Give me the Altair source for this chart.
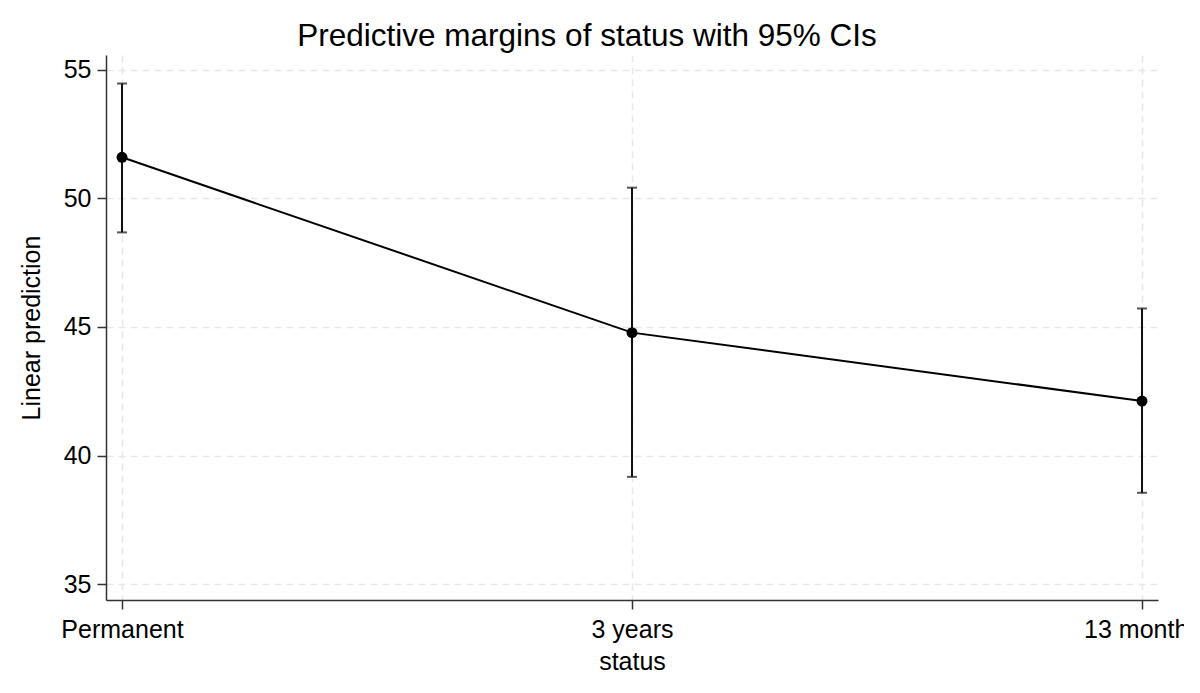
import altair as alt
import pandas as pd

status = ["Permanent", "3 years", "13 months"]
margin = [51.6, 44.78, 42.12]
ci_lo = [48.68, 39.17, 38.55]
ci_hi = [54.47, 50.42, 45.72]
y_ticks = [35, 40, 45, 50, 55]

df = pd.DataFrame({"status": status, "margin": margin, "lo": ci_lo, "hi": ci_hi})

FONT = "Liberation Sans"

x = alt.X("status:N", sort=status, title="status",
          scale=alt.Scale(type="point", padding=0.0314),
          axis=alt.Axis(labelAngle=0, labelFontSize=25, titleFontSize=25,
                        labelFont=FONT, titleFont=FONT, titleFontWeight="normal",
                        labelColor="black", titleColor="black",
                        domainColor="#333333", domainWidth=1.5,
                        tickColor="#333333", tickWidth=1.5, tickSize=9,
                        labelPadding=8, titlePadding=7,
                        grid=True, gridColor="#e8e8e8", gridDash=[7, 5], gridWidth=1.5))
y_axis = alt.Axis(values=y_ticks, labelFontSize=25, titleFontSize=25,
                  labelFont=FONT, titleFont=FONT, titleFontWeight="normal",
                  labelColor="black", titleColor="black",
                  domainColor="#333333", domainWidth=1.5,
                  tickColor="#333333", tickWidth=1.5, tickSize=9,
                  labelPadding=6, titlePadding=19,
                  grid=True, gridColor="#e8e8e8", gridDash=[7, 5], gridWidth=1.5)
yscale = alt.Scale(domain=[34.38, 55.58], nice=False, zero=False)

base = alt.Chart(df)

bars = base.mark_rule(color="#111111", strokeWidth=2).encode(
    x=x,
    y=alt.Y("lo:Q", scale=yscale, axis=y_axis, title="Linear prediction"),
    y2="hi:Q",
)
caps_lo = base.mark_tick(color="#111111", orient="horizontal", size=10, thickness=2).encode(
    x=x, y=alt.Y("lo:Q", scale=yscale))
caps_hi = base.mark_tick(color="#111111", orient="horizontal", size=10, thickness=2).encode(
    x=x, y=alt.Y("hi:Q", scale=yscale))
line = base.mark_line(color="black", strokeWidth=2).encode(
    x=x, y=alt.Y("margin:Q", scale=yscale))
pts = base.mark_point(filled=True, color="black", size=120, opacity=1).encode(
    x=x, y=alt.Y("margin:Q", scale=yscale))

chart = alt.layer(bars, caps_lo, caps_hi, line, pts).properties(
    width=1052, height=545,
    autosize=alt.AutoSizeParams(type="none"),
    padding={"left": 98, "top": 47, "right": 26, "bottom": 80},
    title=alt.TitleParams("Predictive margins of status with 95% CIs",
                          font=FONT, fontSize=31.5, fontWeight="normal",
                          color="black", dx=-45, offset=3),
    background="white",
).configure_view(stroke=None)

chart.save("out.html", embed_options={"renderer": "svg", "actions": False})
